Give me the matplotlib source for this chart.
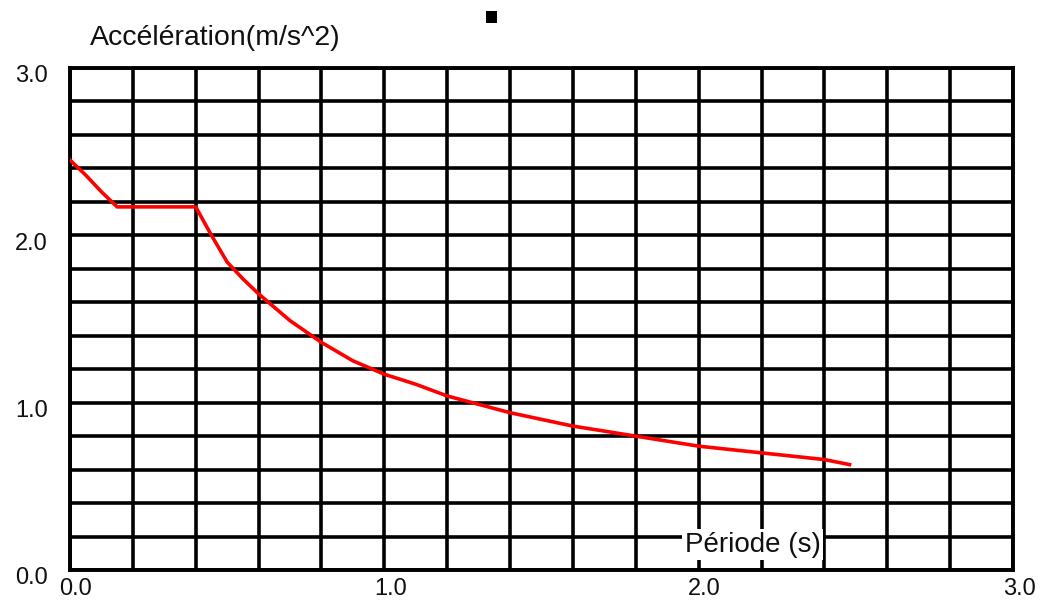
import matplotlib
matplotlib.use("Agg")
import matplotlib.pyplot as plt
from matplotlib.ticker import MultipleLocator, FixedLocator
from matplotlib.transforms import ScaledTranslation
from matplotlib.patches import Rectangle

# ---- data ----
periods = [0.0, 0.05, 0.10, 0.15, 0.40, 0.45, 0.50, 0.55, 0.60, 0.70, 0.80,
           0.90, 1.00, 1.10, 1.20, 1.30, 1.40, 1.50, 1.60, 1.70, 1.80, 1.90,
           2.00, 2.10, 2.20, 2.30, 2.40, 2.48]
accel = [2.45, 2.36, 2.26, 2.17, 2.17, 2.00, 1.84, 1.74, 1.65, 1.49, 1.36,
         1.25, 1.17, 1.11, 1.04, 0.99, 0.94, 0.90, 0.86, 0.83, 0.80, 0.77,
         0.74, 0.72, 0.70, 0.68, 0.66, 0.63]
x_ticks = [0.0, 1.0, 2.0, 3.0]
x_tick_labels = ["0.0", "1.0", "2.0", "3.0"]
y_ticks = [0.0, 1.0, 2.0, 3.0]
y_tick_labels = ["0.0", "1.0", "2.0", "3.0"]
y_title = "Accélération(m/s^2)"
x_title = "Période (s)"

plt.rcParams['font.family'] = ['Liberation Sans', 'DejaVu Sans']

W, H = 1046, 601
fig = plt.figure(figsize=(W / 100, H / 100), dpi=100)
left, right, top, bottom = 70, 1013, 68, 570
ax = fig.add_axes([left / W, (H - bottom) / H, (right - left) / W, (bottom - top) / H])

ax.set_xlim(0, 3.0)
ax.set_ylim(0, 3.0)
ax.xaxis.set_major_locator(FixedLocator(x_ticks))
ax.yaxis.set_major_locator(FixedLocator(y_ticks))
ax.set_xticklabels(x_tick_labels)
ax.set_yticklabels(y_tick_labels)
ax.xaxis.set_minor_locator(MultipleLocator(0.2))
ax.yaxis.set_minor_locator(MultipleLocator(0.2))
ax.grid(which='both', color='black', linewidth=2.6)
ax.set_axisbelow(True)
for s in ax.spines.values():
    s.set_linewidth(2.8)
    s.set_color('black')

ax.tick_params(which='both', length=0)
ax.tick_params(axis='x', pad=6, labelsize=17, labelcolor='#101010')
ax.tick_params(axis='y', pad=16, labelsize=17, labelcolor='#101010')

for lab in ax.get_xticklabels():
    lab.set_transform(lab.get_transform() + ScaledTranslation(6 / 100, 0, fig.dpi_scale_trans))
for lab in ax.get_yticklabels():
    lab.set_transform(lab.get_transform() + ScaledTranslation(0, -6 / 100, fig.dpi_scale_trans))

ax.plot(periods, accel, color='#ff0000', linewidth=2.6, zorder=3, solid_joinstyle='round')

ax.text(1.955, 0.11, x_title, fontsize=20, color='#101010', zorder=5,
        ha='left', va='baseline',
        bbox=dict(boxstyle='square,pad=0.08', facecolor='white', edgecolor='none'))

fig.text(90 / W, (H - 45) / H, y_title, fontsize=20.5, color='#101010',
         ha='left', va='baseline')

fig.patches.append(Rectangle((486 / W, (H - 23) / H), 11 / W, 12 / H,
                             transform=fig.transFigure, facecolor='black',
                             edgecolor='none'))

fig.savefig("out.png", dpi=100)
